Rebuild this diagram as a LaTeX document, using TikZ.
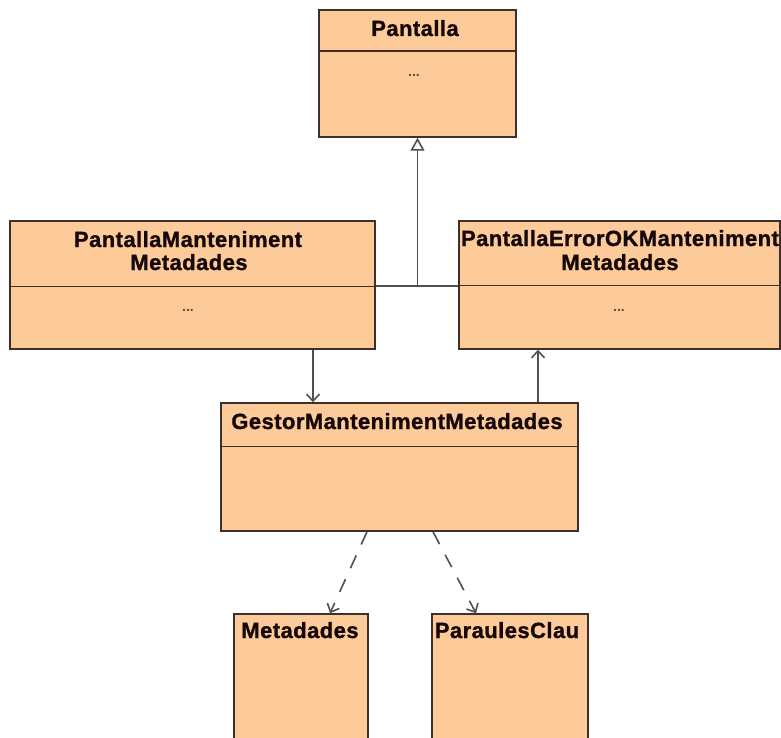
\documentclass[tikz,border=0pt]{standalone}
\usepackage{fontspec}
\setmainfont{Liberation Sans}
\newfontfamily\umlfont[FakeBold=1.2,LetterSpace=2]{Liberation Sans Bold}
\usetikzlibrary{arrows.meta,calc}
\definecolor{umlfill}{RGB}{253,203,153}
\definecolor{umlline}{RGB}{62,48,40}
\definecolor{umltext}{RGB}{22,8,8}
\definecolor{linkgray}{RGB}{80,80,80}
\tikzset{
  classbox/.style={draw=umlline, fill=umlfill, line width=1.5pt, inner sep=0pt},
  classname/.style={anchor=base, inner sep=0pt, text=umltext,
    font=\fontsize{22}{24}\umlfont},
  members/.style={anchor=base, inner sep=0pt, text=linkgray,
    font=\fontsize{14}{15}\selectfont\bfseries},
  divider/.style={draw=umlline, line width=1.5pt},
  link/.style={draw=linkgray, line width=1.6pt},
  assoc/.style={link, -{Straight Barb[length=7pt,width=13pt]}},
  dependency/.style={assoc, dash pattern=on 14pt off 12pt},
  inherit/.style={link, -{Triangle[open, length=13pt, width=14pt, fill=white]}}
}
\begin{document}
\begin{tikzpicture}[x=1pt,y=-1pt]
\clip (0,0) rectangle (781,738);
\fill[white] (0,0) rectangle (781,738);

% class boxes
\node[classbox, minimum width=197pt, minimum height=127pt] (pantalla) at (417.5,73.5) {};
\node[classbox, minimum width=365pt, minimum height=128pt] (pantman) at (192.5,285) {};
\node[classbox, minimum width=321pt, minimum height=128pt] (errman) at (619.5,285) {};
\node[classbox, minimum width=357pt, minimum height=128pt] (gestor) at (399.5,467) {};
\node[classbox, minimum width=134pt, minimum height=160pt] (metadades) at (301,694) {};
\node[classbox, minimum width=156pt, minimum height=160pt] (paraules) at (510,694) {};

% compartment dividers
\draw[divider] ($(pantalla.north west)+(0,42)$) -- ($(pantalla.north east)+(0,42)$);
\draw[divider] ($(pantman.north west)+(0,66)$) -- ($(pantman.north east)+(0,66)$);
\draw[divider] ($(errman.north west)+(0,65)$) -- ($(errman.north east)+(0,65)$);
\draw[divider] ($(gestor.north west)+(0,44)$) -- ($(gestor.north east)+(0,44)$);

% class names
\node[classname] (pantalla-name) at (415,36) {Pantalla};
\node[classname] (pantman-name1) at (188,247) {PantallaManteniment};
\node[classname] (pantman-name2) at (189,270) {Metadades};
\node[classname] (errman-name1) at (620,246) {PantallaErrorOKManteniment};
\node[classname] (errman-name2) at (620,270) {Metadades};
\node[classname] (gestor-name) at (397,429) {GestorMantenimentMetadades};
\node[classname] (metadades-name) at (300,638) {Metadades};
\node[classname] (paraules-name) at (507,638) {ParaulesClau};

% member placeholders
\node[members] (pantalla-ops) at (414,77) {...};
\node[members] (pantman-ops) at (188,311) {...};
\node[members] (errman-ops) at (619,311) {...};

% generalization tree
\coordinate (join) at (417.5,286);
\draw[link] (pantman.east |- join) -- (errman.west |- join);
\draw[inherit] (join) -- (pantalla.south);

% navigable associations
\draw[assoc] ([xshift=120.5pt]pantman.south) -- ([xshift=120.5pt]pantman.south |- gestor.north);
\draw[assoc] ([xshift=-81.5pt]errman.south |- gestor.north) -- ([xshift=-81.5pt]errman.south);

% dependencies
\draw[dependency] ([xshift=-32.5pt]gestor.south) -- ([xshift=29pt]metadades.north);
\draw[dependency] ([xshift=33.5pt]gestor.south) -- ([xshift=-34pt]paraules.north);
\end{tikzpicture}
\end{document}
